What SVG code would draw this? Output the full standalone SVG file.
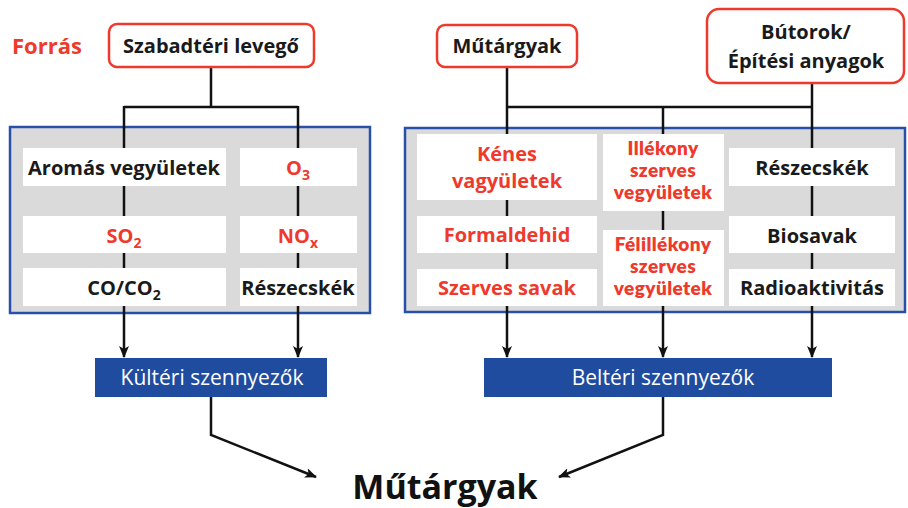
<svg xmlns="http://www.w3.org/2000/svg" width="908" height="508" viewBox="0 0 908 508">
<defs>
<style>
text{font-family:"Open Sans","Noto Sans",sans-serif;text-anchor:middle}
.b{font-weight:700;font-size:20px;fill:#1a1a1a}
.r{font-weight:700;font-size:20px;fill:#ee3a2c}
.t{font-family:Lato,"Open Sans",sans-serif;font-weight:800;font-size:19px;letter-spacing:0.4px}
.src{fill:#fff;stroke:#ee3a2c;stroke-width:2.5}
.box{fill:#dadada;stroke:#2850a8;stroke-width:2.5}
.cell{fill:#fff}
.dark{fill:#1f4c9e}
.w{fill:#fff;font-size:21px}
.ln{fill:none;stroke:#111;stroke-width:2.5}
.sub{font-size:14px}
</style>
<marker id="ah" viewBox="0 0 12 10" markerWidth="12" markerHeight="10" refX="11" refY="5" orient="auto" markerUnits="userSpaceOnUse">
<path d="M0,0 L12,5 L0,10 L3,5 z" fill="#111"/>
</marker>
</defs>
<rect width="908" height="508" fill="#fff"/>

<text x="47" y="54" class="r" style="font-size:22px">Forrás</text>

<g id="containers">
<rect x="10" y="127" width="360" height="186" class="box"/>
<rect x="405" y="128" width="500" height="184" class="box"/>
</g>

<g id="connectors">
<path class="ln" d="M211,67 V107 M124,107 H298"/>
<path class="ln" d="M124,106 V357" marker-end="url(#ah)"/>
<path class="ln" d="M298,106 V357" marker-end="url(#ah)"/>
<path class="ln" d="M507,107 H812"/>
<path class="ln" d="M507,67 V357" marker-end="url(#ah)"/>
<path class="ln" d="M663,106 V357" marker-end="url(#ah)"/>
<path class="ln" d="M812,83 V357" marker-end="url(#ah)"/>
<path class="ln" d="M211,397 V435 L316,477" marker-end="url(#ah)"/>
<path class="ln" d="M663,397 V435 L559,477" marker-end="url(#ah)"/>
</g>

<g id="szabadteri">
<rect x="109" y="24" width="205" height="43" rx="8" class="src"/>
<text x="211" y="53" class="b">Szabadtéri levegő</text>
</g>
<g id="mutargyak-src">
<rect x="437" y="25" width="140" height="42" rx="8" class="src"/>
<text x="507" y="53" class="b">Műtárgyak</text>
</g>
<g id="butorok">
<rect x="707" y="9" width="197" height="74" rx="12" class="src"/>
<text x="806" y="39" class="b">Bútorok/</text>
<text x="806" y="68" class="b">Építési anyagok</text>
</g>

<g id="aromas"><rect x="23" y="148" width="203" height="38" class="cell"/><text x="124" y="175" class="b">Aromás vegyületek</text></g>
<g id="o3"><rect x="240" y="148" width="117" height="38" class="cell"/><text x="298" y="175" class="r">O<tspan class="sub" dy="5">3</tspan></text></g>
<g id="so2"><rect x="23" y="216" width="203" height="37" class="cell"/><text x="124" y="243" class="r">SO<tspan class="sub" dy="5">2</tspan></text></g>
<g id="nox"><rect x="240" y="216" width="117" height="37" class="cell"/><text x="298" y="243" class="r">NO<tspan class="sub" dy="5">x</tspan></text></g>
<g id="coco2"><rect x="23" y="268" width="203" height="38" class="cell"/><text x="124" y="295" class="b">CO/CO<tspan class="sub" dy="5">2</tspan></text></g>
<g id="reszecskek-l"><rect x="240" y="268" width="117" height="38" class="cell"/><text x="298" y="295" class="b">Részecskék</text></g>

<g id="kenes"><rect x="417" y="134" width="180" height="66" class="cell"/><text x="507" y="161" class="r">Kénes</text><text x="507" y="188" class="r">vagyületek</text></g>
<g id="formaldehid"><rect x="417" y="216" width="180" height="37" class="cell"/><text x="507" y="242" class="r">Formaldehid</text></g>
<g id="szerves-savak"><rect x="417" y="269" width="180" height="37" class="cell"/><text x="507" y="295" class="r">Szerves savak</text></g>
<g id="illekony"><rect x="603" y="134" width="121" height="77" class="cell"/><text x="663" y="155" class="r t">Illékony</text><text x="663" y="177" class="r t">szerves</text><text x="663" y="199" class="r t">vegyületek</text></g>
<g id="felillekony"><rect x="603" y="230" width="121" height="76" class="cell"/><text x="663" y="251" class="r t">Félillékony</text><text x="663" y="273" class="r t">szerves</text><text x="663" y="295" class="r t">vegyületek</text></g>
<g id="reszecskek-r"><rect x="729" y="148" width="166" height="38" class="cell"/><text x="812" y="175" class="b">Részecskék</text></g>
<g id="biosavak"><rect x="729" y="216" width="166" height="37" class="cell"/><text x="812" y="243" class="b">Biosavak</text></g>
<g id="radioakt"><rect x="729" y="269" width="166" height="37" class="cell"/><text x="812" y="295" class="b">Radioaktivitás</text></g>

<g id="kulteri"><rect x="95" y="358" width="232" height="39" class="dark"/><text x="212" y="385" class="w">Kültéri szennyezők</text></g>
<g id="belteri"><rect x="484" y="358" width="348" height="39" class="dark"/><text x="663" y="385" class="w">Beltéri szennyezők</text></g>

<g id="mutargyak"><text x="445" y="499" style="font-size:34px;font-weight:700;fill:#111">Műtárgyak</text></g>
</svg>
